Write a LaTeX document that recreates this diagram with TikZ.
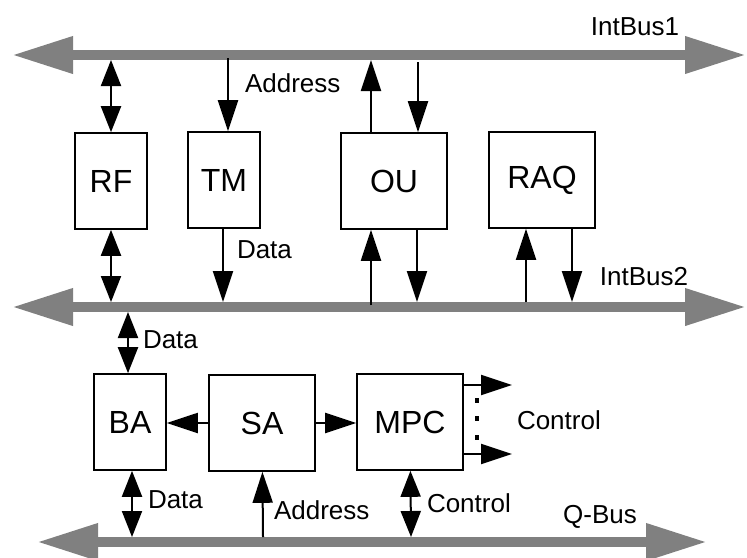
\documentclass[tikz,border=0pt]{standalone}
\usepackage{fontspec}
\setmainfont{Liberation Sans}
\usetikzlibrary{arrows.meta,positioning}

\begin{document}
\begin{tikzpicture}[x=0.5pt,y=-0.5pt,>={Triangle[length=15.5pt,width=10pt]},
										line width=1pt,inner sep=0pt,font=\fontsize{13}{15}\selectfont]
	\tikzstyle{unit}=[draw=black,line width=0.8pt,minimum width=36pt,minimum height=48pt,
										font=\fontsize{16}{19}\selectfont]
	\tikzstyle{wide}=[unit,minimum width=53pt]
	\tikzstyle{both}=[{Triangle[length=13pt,width=10pt]}-{Triangle[length=13pt,width=10pt]}]
	\tikzstyle{bus}=[draw=gray,line width=5pt,
										{Triangle[length=30.5pt,width=17.5pt]}-{Triangle[length=30.5pt,width=17.5pt]}]

	\useasboundingbox (0,0) rectangle (747,557);

	% buses
	\coordinate (b1l) at (12,55);  \coordinate (b1r) at (746,55);
	\coordinate (b2l) at (12,307); \coordinate (b2r) at (746,307);
	\coordinate (b3l) at (37,542); \coordinate (b3r) at (707,542);
	\draw[bus] (b1l) -- (b1r);
	\draw[bus] (b2l) -- (b2r);
	\draw[bus] (b3l) -- (b3r);

	\node (ib1) at (635,27)  {IntBus1};
	\node (ib2) at (644,277) {IntBus2};
	\node (qb)  at (600,517) {Q-Bus};

	% units
	\node[unit] (RF)  at (111,181) {RF};
	\node[unit] (TM)  at (224,180) {TM};
	\node[wide] (OU)  at (394,181) {OU};
	\node[wide] (RAQ) at (542,180) {RAQ};
	\node[unit] (BA)  at (130,422) {BA};
	\node[wide] (SA)  at (262,423) {SA};
	\node[wide] (MPC) at (410,422) {MPC};

	% taps on the buses
	\coordinate (rf1) at (111,60);  \coordinate (rf2) at (111,302);
	\coordinate (tm1) at (228,58);  \coordinate (tm2) at (223,302);
	\coordinate (ou1) at (371,60);  \coordinate (ou2) at (418,62);
	\coordinate (ou3) at (371,305); \coordinate (ou4) at (417,302);
	\coordinate (rq1) at (526,302); \coordinate (rq2) at (572,302);
	\coordinate (ba1) at (128,312); \coordinate (ba2) at (132,537);
	\coordinate (sa1) at (263,537); \coordinate (mp1) at (411,537);
	\coordinate (ct1) at (512,385); \coordinate (ct2) at (512,454);

	\draw[both] (rf1) -- (RF);
	\draw[both] (RF) -- (rf2);
	\draw[->] (tm1) -- (tm1 |- TM.north);
	\draw[->] (tm2 |- TM.south) -- (tm2);
	\draw[->] (ou1 |- OU.north) -- (ou1);
	\draw[->] (ou2) -- (ou2 |- OU.north);
	\draw[->] (ou3) -- (ou3 |- OU.south);
	\draw[->] (ou4 |- OU.south) -- (ou4);
	\draw[->] (rq1) -- (rq1 |- RAQ.south);
	\draw[->] (rq2 |- RAQ.south) -- (rq2);
	\draw[both] (ba1) -- (ba1 |- BA.north);
	\draw[both] (ba2 |- BA.south) -- (ba2);
	\draw[->] (SA.west) -- (SA.west -| BA.east);
	\draw[->] (SA.east) -- (SA.east -| MPC.west);
	\draw[->] (sa1) -- (SA);
	\draw[both] (MPC) -- (mp1);
	\draw[->] (ct1 -| MPC.east) -- (ct1);
	\draw[->] (ct2 -| MPC.east) -- (ct2);
	\foreach \y in {400,418,437}
		\fill (475,\y-2.5) rectangle ++(4,5);

	\node[anchor=west] (adr1) at (244,83)  {Address};
	\node[anchor=west] (dat1) at (236,250) {Data};
	\node[anchor=west] (dat2) at (142,340) {Data};
	\node[anchor=west] (dat3) at (147,500) {Data};
	\node[anchor=west] (adr2) at (273,510) {Address};
	\node[anchor=west] (ctl1) at (426,503) {Control};
	\node[anchor=west] (ctl2) at (516,420) {Control};
\end{tikzpicture}
\end{document}
